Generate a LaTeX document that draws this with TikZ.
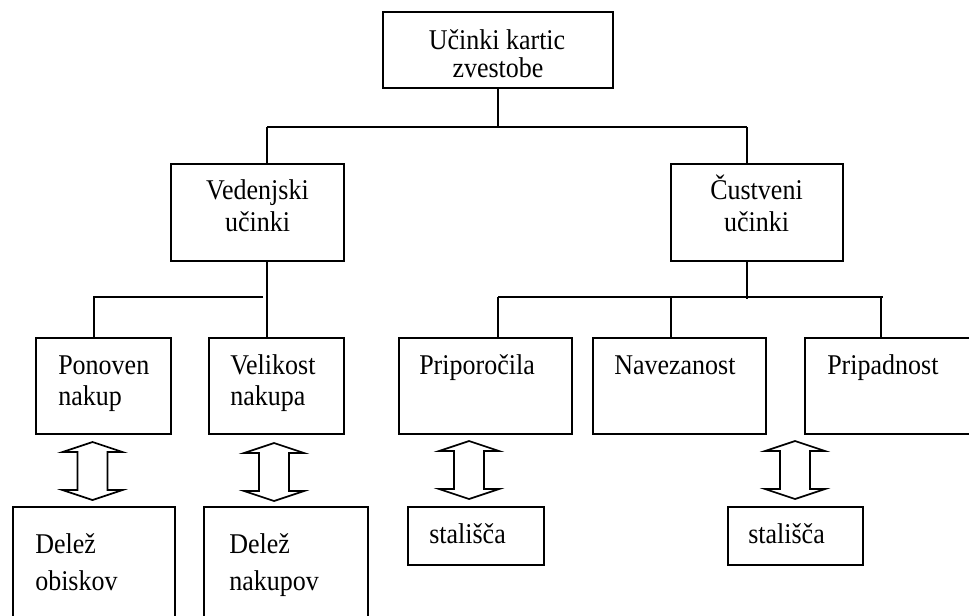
\documentclass[tikz,border=0pt]{standalone}
\usepackage{fontspec}
\usepackage{graphicx}
\setmainfont{Liberation Serif}
\usetikzlibrary{fit}
% text set slightly taller than its natural shape
\newcommand\tx[1]{\scalebox{1}[1.1]{#1}}
\tikzset{
  box/.style={draw, line width=1.4pt, inner sep=0pt},
  lbl/.style={inner sep=0pt, font=\fontsize{19.5}{23}\selectfont},
  link/.style={draw, line width=1.1pt},
  biarrow/.pic={
    \draw[line width=1.3pt, line join=miter]
      (0,0) -- (30,10) -- (15,10) -- (15,48) -- (30,48) -- (0,58)
      -- (-30,48) -- (-15,48) -- (-15,10) -- (-30,10) -- cycle;
  }
}
\begin{document}
\begin{tikzpicture}[x=0.75pt, y=-0.75pt]
  \useasboundingbox (0,0) rectangle (969,616);
  \clip (0,0) rectangle (969,616);

  % level 0
  \node[box, fit={(383,12) (613,88)}] (top) {};
  \node[lbl, anchor=base] (topa) at (497,50) {\tx{Učinki kartic}};
  \node[lbl, anchor=base] (topb) at (498,78) {\tx{zvestobe}};

  % level 1
  \node[box, fit={(171,164) (344,261)}] (ved) {};
  \node[lbl, anchor=base] (veda) at (257.5,200) {\tx{Vedenjski}};
  \node[lbl, anchor=base] (vedb) at (257.5,232) {\tx{učinki}};

  \node[box, fit={(671,164) (843,261)}] (cus) {};
  \node[lbl, anchor=base] (cusa) at (756.5,200) {\tx{Čustveni}};
  \node[lbl, anchor=base] (cusb) at (756.5,232) {\tx{učinki}};

  % level 2
  \node[box, fit={(36,338) (171,434)}] (pon) {};
  \node[lbl, anchor=base west] (pona) at (58,374) {\tx{Ponoven}};
  \node[lbl, anchor=base west] (ponb) at (58,405) {\tx{nakup}};

  \node[box, fit={(209,338) (344,434)}] (vel) {};
  \node[lbl, anchor=base west] (vela) at (230,374) {\tx{Velikost}};
  \node[lbl, anchor=base west] (velb) at (230,405) {\tx{nakupa}};

  \node[box, fit={(399,338) (572,434)}] (pri) {};
  \node[lbl, anchor=base west] (pria) at (419,374) {\tx{Priporočila}};

  \node[box, fit={(593,338) (766,434)}] (nav) {};
  \node[lbl, anchor=base west] (nava) at (614,374) {\tx{Navezanost}};

  \node[box, fit={(805,338) (980,434)}] (pad) {};
  \node[lbl, anchor=base west] (pada) at (827,374) {\tx{Pripadnost}};

  % level 3
  \node[box, fit={(13,507) (175,630)}] (dobi) {};
  \node[lbl, anchor=base west] (dobia) at (35,553) {\tx{Delež}};
  \node[lbl, anchor=base west] (dobib) at (35,590) {\tx{obiskov}};

  \node[box, fit={(204,507) (368,630)}] (dnak) {};
  \node[lbl, anchor=base west] (dnaka) at (229,553) {\tx{Delež}};
  \node[lbl, anchor=base west] (dnakb) at (229,590) {\tx{nakupov}};

  \node[box, fit={(408,507) (544,565)}] (sta1) {};
  \node[lbl, anchor=base west] (sta1a) at (429,543) {\tx{stališča}};

  \node[box, fit={(728,507) (863,565)}] (sta2) {};
  \node[lbl, anchor=base west] (sta2a) at (748,543) {\tx{stališča}};

  % tree connectors
  \coordinate (j0) at (498,127);
  \coordinate (jl) at (267,127);
  \coordinate (jr) at (747,127);
  \draw[link] (j0 |- top.south) -- (j0);
  \draw[link] (jl) -- (jr);
  \draw[link] (jl) -- (jl |- ved.north);
  \draw[link] (jr) -- (jr |- cus.north);

  \coordinate (jp) at (94,297);
  \coordinate (jpe) at (263,297);
  \draw[link] (jl |- ved.south) -- (jl |- vel.north);
  \draw[link] (jpe) -- (jp) -- (jp |- pon.north);

  \coordinate (jc) at (747,299);
  \coordinate (ja) at (498,297);
  \coordinate (jn) at (671,297);
  \coordinate (jb) at (883,297);
  \coordinate (jd) at (881,297);
  \draw[link] (jr |- cus.south) -- (jc);
  \draw[link] (ja) -- (jb);
  \draw[link] (ja) -- (ja |- pri.north);
  \draw[link] (jn) -- (jn |- nav.north);
  \draw[link] (jd) -- (jd |- pad.north);

  % two-way block arrows
  \pic (ar1) at (92.5,442) {biarrow};
  \pic (ar2) at (274,443) {biarrow};
  \pic (ar3) at (469,441) {biarrow};
  \pic (ar4) at (795,441) {biarrow};
\end{tikzpicture}
\end{document}
